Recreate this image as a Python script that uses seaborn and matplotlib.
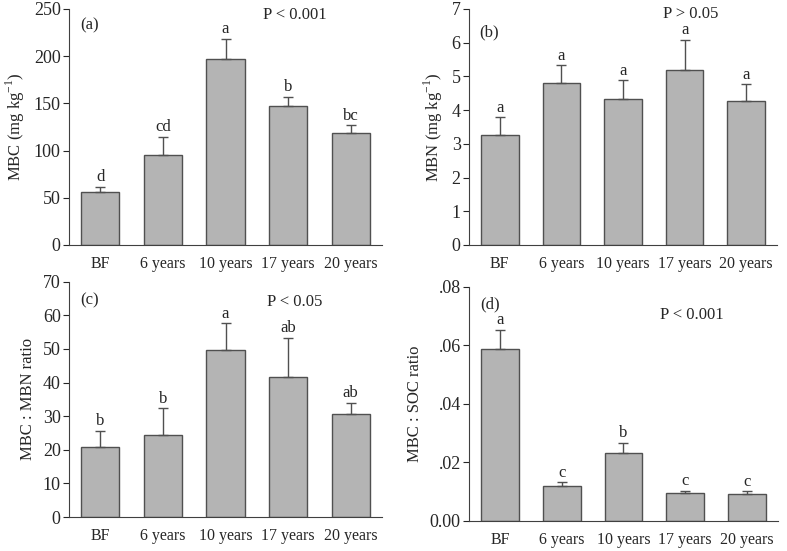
import numpy as np
import pandas as pd
import seaborn as sns
import matplotlib.pyplot as plt
from matplotlib.ticker import FixedLocator, FixedFormatter

sns.set_style("ticks")
plt.rcParams['font.family'] = ['Liberation Serif', 'DejaVu Serif']
plt.rcParams['mathtext.fontset'] = 'custom'
plt.rcParams['mathtext.rm'] = 'Liberation Serif'

# categories
stands = ["BF", "6 years", "10 years", "17 years", "20 years"]

# (a) MBC
mbc = [55.9, 95.5, 196.6, 147.5, 118.5]
mbc_se = [6.0, 19.1, 21.6, 9.5, 8.5]
mbc_letters = ["d", "cd", "a", "b", "bc"]

# (b) MBN
mbn = [3.26, 4.79, 4.33, 5.20, 4.27]
mbn_se = [0.53, 0.54, 0.56, 0.89, 0.49]
mbn_letters = ["a", "a", "a", "a", "a"]

# (c) MBC:MBN
cn = [20.9, 24.5, 49.6, 41.8, 30.7]
cn_se = [4.8, 7.9, 8.1, 11.5, 3.3]
cn_letters = ["b", "b", "a", "ab", "ab"]

# (d) MBC:SOC
cs = [0.0587, 0.01185, 0.02325, 0.00946, 0.00923]
cs_se = [0.0065, 0.0013, 0.0034, 0.0008, 0.0008]
cs_letters = ["a", "c", "b", "c", "c"]

fig = plt.figure(figsize=(7.87, 5.51), dpi=100)
axes_rects = [
    [0.0877, 0.5554, 0.3977, 0.4283],
    [0.5959, 0.5554, 0.3914, 0.4283],
    [0.0877, 0.0617, 0.3977, 0.4270],
    [0.5959, 0.0550, 0.3926, 0.4247],
]

panels = [
    (mbc, mbc_se, mbc_letters, "MBC (mg kg$^{-1}$)", (0, 250), np.arange(0, 251, 50), None,
     "(a)", (0.035, 0.93), "P < 0.001", (0.72, 0.975)),
    (mbn, mbn_se, mbn_letters, "MBN (mg kg$^{-1}$)", (0, 7), np.arange(0, 8, 1), None,
     "(b)", (0.032, 0.90), "P > 0.05", (0.72, 0.98)),
    (cn, cn_se, cn_letters, "MBC : MBN ratio", (0, 70), np.arange(0, 71, 10), None,
     "(c)", (0.035, 0.919), "P < 0.05", (0.72, 0.913)),
    (cs, cs_se, cs_letters, "MBC : SOC ratio", (0, 0.08), [0, 0.02, 0.04, 0.06, 0.08],
     ["0.00", ".02", ".04", ".06", ".08"],
     "(d)", (0.036, 0.925), "P < 0.001", (0.72, 0.879)),
]

for rect, (vals, se, letters, ylabel, ylim, yticks, yticklabels,
           tag, tagpos, ptxt, ppos) in zip(axes_rects, panels):
    ax = fig.add_axes(rect)
    df = pd.DataFrame({"stand": stands, "value": vals})
    sns.barplot(data=df, x="stand", y="value", ax=ax, color="#b4b4b4",
                edgecolor="#505050", linewidth=1.0, width=0.61, saturation=1)
    ax.errorbar(range(len(vals)), vals, yerr=[np.zeros(len(se)), se], fmt="none",
                ecolor="#505050", elinewidth=1.0, capsize=3.5, capthick=1.0)
    for i, (v, e, l) in enumerate(zip(vals, se, letters)):
        ax.annotate(l, xy=(i, v + e), xytext=(0, 4), textcoords="offset points",
                    ha="center", va="baseline", fontsize=12)
    ax.set_xlim(-0.5, 4.5)
    ax.set_ylim(*ylim)
    ax.yaxis.set_major_locator(FixedLocator(yticks))
    if yticklabels is not None:
        ax.yaxis.set_major_formatter(FixedFormatter(yticklabels))
    ax.set_xlabel("")
    ax.set_ylabel(ylabel, fontsize=12, labelpad=5)
    ax.tick_params(axis="y", direction="out", length=4, width=0.8, labelsize=13, pad=2)
    ax.tick_params(axis="x", length=0, labelsize=11.5, pad=8)
    for s in ["top", "right"]:
        ax.spines[s].set_visible(False)
    for s in ["left", "bottom"]:
        ax.spines[s].set_color("#404040")
        ax.spines[s].set_linewidth(0.8)
    ax.text(tagpos[0], tagpos[1], tag, transform=ax.transAxes, fontsize=12,
            ha="left", va="center")
    ax.text(ppos[0], ppos[1], ptxt, transform=ax.transAxes, fontsize=12,
            ha="center", va="center")

fig.savefig("out.png", dpi=100)
